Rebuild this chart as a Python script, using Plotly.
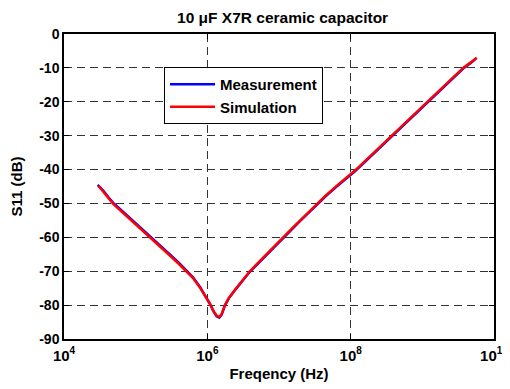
import plotly.graph_objects as go

sim_logf = [4.48, 4.55, 4.62, 4.69, 4.80, 4.90, 5.00, 5.10, 5.20, 5.30, 5.40, 5.50,
            5.60, 5.69, 5.80, 5.90, 5.97, 6.04, 6.09, 6.13, 6.167, 6.20, 6.246,
            6.30, 6.40, 6.50, 6.595, 6.70, 6.80, 6.90, 7.056, 7.20, 7.30, 7.40,
            7.53, 7.65, 7.80, 7.93, 8.06, 8.20, 8.40, 8.57, 8.75, 8.90, 9.08,
            9.25, 9.40, 9.57, 9.68, 9.76]
sim_db = [-44.8, -46.6, -48.5, -50.2, -52.3, -54.2, -56.1, -58.1, -60.0, -61.9, -63.8, -65.8,
          -67.8, -69.8, -72.0, -74.9, -77.3, -79.8, -81.9, -83.1, -83.5, -82.6, -80.0,
          -77.9, -75.1, -72.4, -70.0, -67.7, -65.5, -63.3, -60.0, -57.0, -54.9, -52.8,
          -50.0, -47.7, -44.9, -42.6, -40.3, -37.5, -33.5, -30.0, -26.4, -23.4, -20.0,
          -16.6, -13.5, -10.0, -8.3, -7.0]

meas_logf = [4.47, 4.55, 4.62, 4.69, 4.80, 4.90, 5.00, 5.10, 5.20, 5.30, 5.40, 5.50,
             5.60, 5.69, 5.80, 5.90, 5.97, 6.04, 6.09, 6.13, 6.167, 6.20, 6.246,
             6.30, 6.40, 6.50, 6.595, 6.70, 6.80, 6.90, 7.056, 7.20, 7.30, 7.40,
             7.53, 7.65, 7.80, 7.93, 8.06, 8.20, 8.40, 8.57, 8.75, 8.90, 9.08,
             9.25, 9.40, 9.57, 9.68, 9.75]
meas_db = [-44.5, -46.3, -48.2, -49.9, -52.0, -53.9, -55.8, -57.8, -59.7, -61.6, -63.5, -65.5,
           -67.5, -69.5, -71.8, -74.7, -77.2, -79.8, -82.0, -83.3, -83.7, -82.8, -80.1,
           -78.0, -75.2, -72.5, -70.1, -67.9, -65.7, -63.5, -60.2, -57.2, -55.1, -53.0,
           -50.2, -47.9, -45.1, -42.8, -40.5, -37.7, -33.7, -30.2, -26.6, -23.6, -20.2,
           -16.8, -13.7, -10.2, -8.5, -7.2]

meas_f = [10 ** v for v in meas_logf]
sim_f = [10 ** v for v in sim_logf]

x_tickvals = [1e4, 1e6, 1e8, 1e10]
x_exponents = ["4", "6", "8", "10"]
y_tickvals = [-90, -80, -70, -60, -50, -40, -30, -20, -10, 0]
y_ticktext = ["-90", "-80", "-70", "-60", "-50", "-40", "-30", "-20", "-10", "0"]

x_ticktext = ["10<sup><span style='font-size:10px'>%s</span></sup>" % e for e in x_exponents]

FONT = "Liberation Sans, Arial, sans-serif"

fig = go.Figure()
fig.add_trace(go.Scatter(x=meas_f, y=meas_db, mode="lines", name="Measurement",
                         line=dict(color="#0000ff", width=2.5)))
fig.add_trace(go.Scatter(x=sim_f, y=sim_db, mode="lines", name="Simulation",
                         line=dict(color="#ff0000", width=2.5)))

axis_common = dict(showline=True, linecolor="black", linewidth=1.5, mirror="ticks",
                   ticks="inside", ticklen=5, tickcolor="black", tickwidth=1,
                   showgrid=True, gridcolor="#333333", gridwidth=1, griddash="8px,5px",
                   zeroline=False, automargin=False)

fig.update_xaxes(type="log", range=[4, 10], tickvals=x_tickvals, ticktext=x_ticktext,
                 tickfont=dict(family=FONT, size=15, color="black", weight="bold"),
                 ticklabelstandoff=2,
                 title=dict(text="Freqency (Hz)", standoff=6,
                            font=dict(family=FONT, size=15, color="black", weight="bold")),
                 **axis_common)
fig.update_yaxes(range=[-90, 0], tickvals=y_tickvals, ticktext=y_ticktext,
                 tickfont=dict(family=FONT, size=14, color="black", weight="bold"),
                 title=dict(text="S11 (dB)", standoff=16,
                            font=dict(family=FONT, size=15, color="black", weight="bold")),
                 **axis_common)

# the page body adds an 8px offset, so margins are set to land the plot at 64..494 x 34..339
fig.update_layout(
    width=502, height=381,
    margin=dict(l=56, r=16, t=26, b=50),
    paper_bgcolor="white", plot_bgcolor="white",
    title=dict(text="10 μF X7R ceramic capacitor", x=0.547, xanchor="center",
               y=0.976, yanchor="middle", automargin=False,
               font=dict(family=FONT, size=15.5, color="black", weight="bold")),
    legend=dict(x=0.2326, y=0.892, xanchor="left", yanchor="top",
                bgcolor="white", bordercolor="black", borderwidth=1,
                font=dict(family=FONT, size=15, color="black", weight="bold"),
                itemwidth=45, tracegroupgap=0),
    showlegend=True,
)

fig.write_html("out.html")
